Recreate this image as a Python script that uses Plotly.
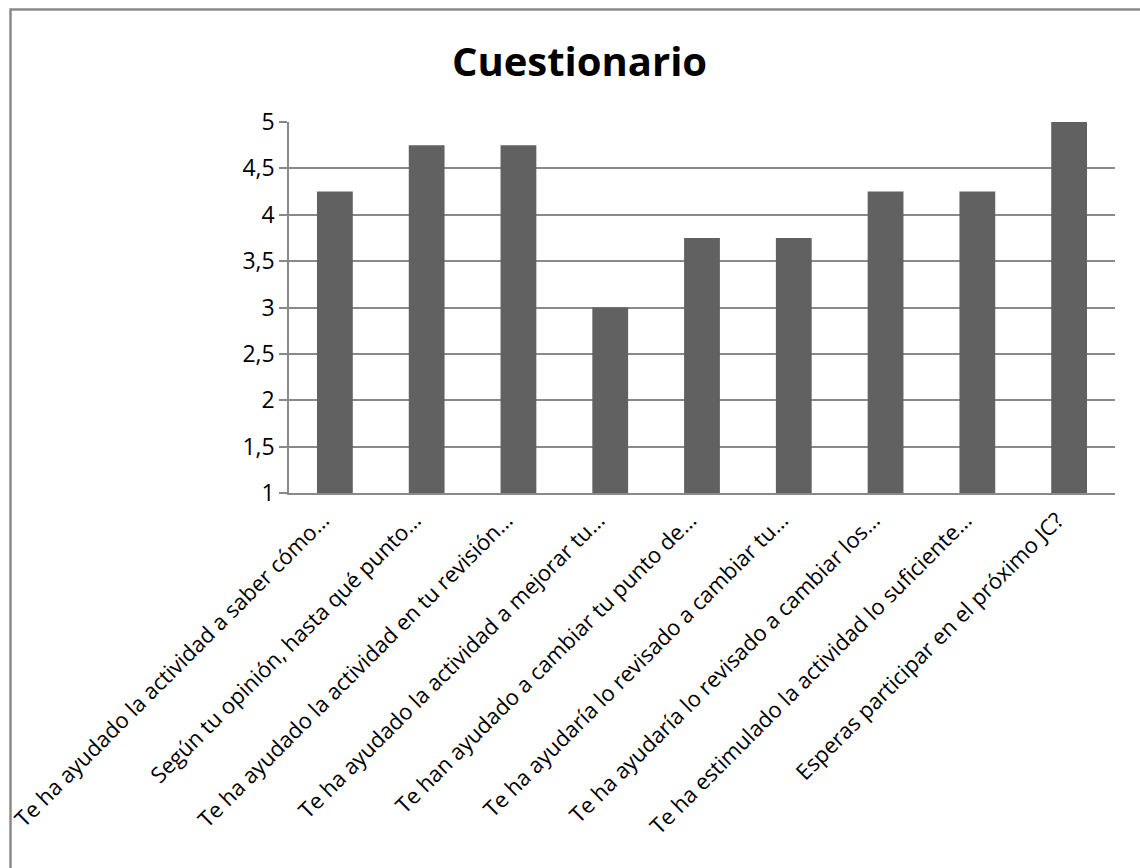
import plotly.graph_objects as go

categories = [
    "Te ha ayudado la actividad a saber cómo…",
    "Según tu opinión, hasta qué punto…",
    "Te ha ayudado la actividad en tu revisión…",
    "Te ha ayudado la actividad a mejorar tu…",
    "Te han ayudado a cambiar tu punto de…",
    "Te ha ayudaría lo revisado a cambiar tu…",
    "Te ha ayudaría lo revisado a cambiar los…",
    "Te ha estimulado la actividad lo suficiente…",
    "Esperas participar en el próximo JC?",
]
scores = [4.25, 4.75, 4.75, 3.0, 3.75, 3.75, 4.25, 4.25, 5.0]
y_ticks = [1, 1.5, 2, 2.5, 3, 3.5, 4, 4.5, 5]

W, H = 1140, 868
ML, MR, MT, MB = 289, 25, 122, 375
pw, ph = W - ML - MR, H - MT - MB

FONT = "Open Sans"
GRID = "#898989"

fig = go.Figure(
    go.Bar(
        x=categories,
        y=scores,
        marker=dict(color="#616161", line=dict(width=0)),
        width=0.39,
    )
)

# chart frame (runs off the right and bottom edges)
fig.add_shape(
    type="rect", xref="paper", yref="paper",
    x0=(10.5 - ML) / pw, x1=1.2,
    y0=-1.3, y1=1 + (MT - 9.5) / ph,
    line=dict(color="#8a8a8a", width=2.5),
    fillcolor="rgba(0,0,0,0)", layer="below",
)

fig.update_layout(
    width=W, height=H,
    margin=dict(l=ML, r=MR, t=MT, b=MB, autoexpand=False),
    paper_bgcolor="white", plot_bgcolor="white",
    separators=",.",
    showlegend=False,
    title=dict(
        text="<b>Cuestionario</b>",
        font=dict(family=FONT, size=40, color="black"),
        x=579.5 / W, xanchor="center", xref="container",
        y=1 - 62 / H, yanchor="middle", yref="container",
    ),
    font=dict(family=FONT, color="black"),
)

fig.update_xaxes(
    type="category",
    automargin=False,
    tickangle=-45,
    ticklabelshift=-12,
    ticklabelstandoff=4,
    tickfont=dict(family=FONT, size=22, color="black"),
    showline=True, linecolor=GRID, linewidth=1.5,
    showgrid=False, ticks="",
)
fig.update_yaxes(
    range=[1, 5],
    automargin=False,
    tickvals=y_ticks,
    tickformat="~g",
    tickfont=dict(family=FONT, size=23, color="black"),
    showline=True, linecolor=GRID, linewidth=1.5,
    showgrid=True, gridcolor=GRID, gridwidth=1.5,
    ticks="outside", ticklen=8, tickcolor=GRID, tickwidth=1.5,
    zeroline=False,
)

fig.write_html("out.html")
